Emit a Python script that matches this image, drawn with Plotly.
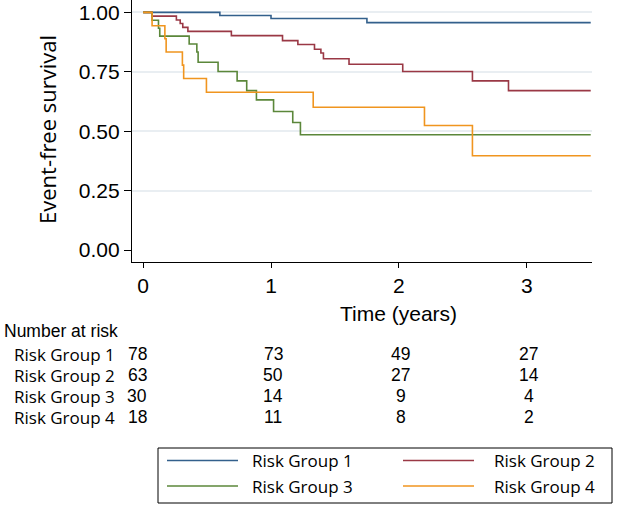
import plotly.graph_objects as go

# ---------------- data ----------------
group_names = ["Risk Group 1", "Risk Group 2", "Risk Group 3", "Risk Group 4"]
group_colors = ["#33608c", "#9a3845", "#5b873a", "#f0951f"]

g1_time = [0, 0.60, 1.00, 1.75, 3.5]
g1_surv = [1.0, 0.987, 0.974, 0.957, 0.957]

g2_time = [0, 0.07, 0.26, 0.29, 0.31, 0.35, 0.69, 1.09, 1.21, 1.34, 1.39, 1.41,
           1.61, 2.03, 2.575, 2.857, 3.5]
g2_surv = [1.0, 0.984, 0.968, 0.953, 0.937, 0.920, 0.902, 0.881, 0.865, 0.845,
           0.829, 0.805, 0.782, 0.751, 0.712, 0.671, 0.671]

g3_time = [0, 0.07, 0.12, 0.13, 0.36, 0.42, 0.43, 0.586, 0.735, 0.81, 0.886,
           1.02, 1.17, 1.23, 3.5]
g3_surv = [1.0, 0.967, 0.933, 0.900, 0.867, 0.833, 0.790, 0.751, 0.712, 0.671,
           0.632, 0.583, 0.537, 0.485, 0.485]

g4_time = [0, 0.07, 0.17, 0.18, 0.307, 0.317, 0.495, 1.33, 2.20, 2.575, 3.5]
g4_surv = [1.0, 0.944, 0.889, 0.833, 0.778, 0.722, 0.664, 0.601, 0.524, 0.397, 0.397]

risk_times = [0, 1, 2, 3]
g1_risk = [78, 73, 49, 27]
g2_risk = [63, 50, 27, 14]
g3_risk = [30, 14, 9, 4]
g4_risk = [18, 11, 8, 2]

x_ticks = [0, 1, 2, 3]
y_ticks = [0, 0.25, 0.5, 0.75, 1.0]
y_tick_labels = ["0.00", "0.25", "0.50", "0.75", "1.00"]

# ---------------- layout geometry ----------------
W, H = 622, 505
L, R, T, B = 132, 30, 0, 243
PW, PH = W - L - R, H - T - B


def px_x(x):
    return (x - L) / PW


def px_y(y):
    return (H - B - y) / PH


HELV = "Liberation Sans, Arial, Helvetica, sans-serif"
MYR = "Open Sans, Noto Sans, sans-serif"

fig = go.Figure()
series = [(g1_time, g1_surv), (g2_time, g2_surv), (g3_time, g3_surv), (g4_time, g4_surv)]
for name, color, (t, s) in zip(group_names, group_colors, series):
    fig.add_trace(go.Scatter(x=t, y=s, mode="lines", name=name, line_shape="hv",
                             line=dict(color=color, width=1.6), showlegend=False))

annotations = []
shapes = []

# axis titles
annotations.append(dict(text="Time (years)", xref="paper", yref="paper",
                        x=px_x(398), y=px_y(313), showarrow=False,
                        font=dict(family=HELV, size=21, color="black"),
                        xanchor="center", yanchor="middle"))
annotations.append(dict(text="Event-free survival", xref="paper", yref="paper",
                        x=px_x(47), y=px_y(130), showarrow=False, textangle=-90,
                        font=dict(family=MYR, size=22, color="black"),
                        xanchor="center", yanchor="middle"))

# number at risk table
annotations.append(dict(text="Number at risk", xref="paper", yref="paper",
                        x=px_x(2), y=px_y(331), showarrow=False,
                        font=dict(family=HELV, size=17.5, color="black"),
                        xanchor="left", yanchor="middle"))
row_y = [354, 375, 396, 417]
risks = [g1_risk, g2_risk, g3_risk, g4_risk]
for name, ry, counts in zip(group_names, row_y, risks):
    annotations.append(dict(text=name, xref="paper", yref="paper",
                            x=px_x(12), y=px_y(ry), showarrow=False,
                            font=dict(family=MYR, size=17, color="black"),
                            xanchor="left", yanchor="middle"))
    for tt, c in zip(risk_times, counts):
        annotations.append(dict(text=str(c), xref="x", yref="paper",
                                x=tt, y=px_y(ry), showarrow=False,
                                xshift=(-6 if tt == 0 else 2),
                                font=dict(family=HELV, size=17.5, color="black"),
                                xanchor="center", yanchor="middle"))

# legend (manual box)
shapes.append(dict(type="rect", xref="paper", yref="paper",
                   x0=px_x(158), x1=px_x(612), y0=px_y(448), y1=px_y(503),
                   line=dict(color="black", width=1), fillcolor="white"))
leg_pos = [(167, 238, 250, 460.5), (403, 474, 492, 460.5),
           (167, 238, 250, 486), (403, 474, 492, 486)]
for name, color, (lx0, lx1, tx, ly) in zip(group_names, group_colors, leg_pos):
    shapes.append(dict(type="line", xref="paper", yref="paper",
                       x0=px_x(lx0), x1=px_x(lx1), y0=px_y(ly), y1=px_y(ly),
                       line=dict(color=color, width=1.5)))
    annotations.append(dict(text=name, xref="paper", yref="paper",
                            x=px_x(tx), y=px_y(ly), showarrow=False,
                            font=dict(family=MYR, size=17, color="black"),
                            xanchor="left", yanchor="middle"))

fig.update_layout(
    width=W, height=H,
    margin=dict(l=L, r=R, t=T, b=B, autoexpand=False),
    paper_bgcolor="white", plot_bgcolor="white",
    showlegend=False,
    annotations=annotations, shapes=shapes,
    xaxis=dict(range=[-0.087, 3.51], tickvals=x_ticks, ticks="outside", ticklen=5,
               tickwidth=1.2, tickcolor="black", showline=True, linecolor="black",
               linewidth=1.2, showgrid=False, zeroline=False,
               tickfont=dict(family=HELV, size=21, color="black")),
    yaxis=dict(range=[-0.05, 1.052], tickvals=y_ticks, ticktext=y_tick_labels,
               ticks="outside", ticklen=7, tickwidth=1.2, tickcolor="black",
               showline=True, linecolor="black", linewidth=1.2, showgrid=False,
               zeroline=False, tickfont=dict(family=HELV, size=21, color="black"),
               minor=dict(tickvals=[0.25, 0.5, 0.75, 1.0], showgrid=True,
                          gridcolor="#e9eef2", gridwidth=1.5, ticks="")),
)

fig.write_html("out.html",
               config={"displayModeBar": False},
               post_script="document.body.style.margin='0';"
                           "document.body.style.overflow='hidden';")
